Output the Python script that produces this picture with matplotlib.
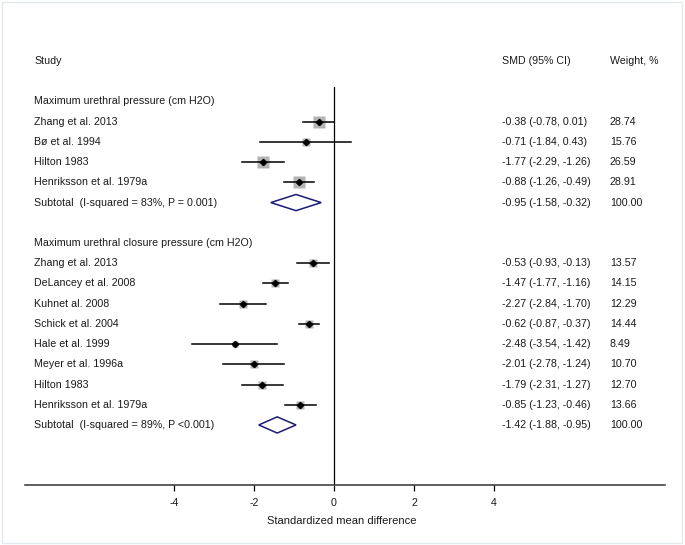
import numpy as np
import matplotlib.pyplot as plt
from matplotlib.patches import Rectangle

plt.rcParams['font.family'] = ['Liberation Sans', 'DejaVu Sans']

# group 1: maximum urethral pressure
g1_title = "Maximum urethral pressure (cm H2O)"
g1_studies = ["Zhang et al. 2013", "Bø et al. 1994", "Hilton 1983", "Henriksson et al. 1979a"]
g1_est = [-0.38, -0.71, -1.77, -0.88]
g1_lo = [-0.78, -1.84, -2.29, -1.26]
g1_hi = [0.01, 0.43, -1.26, -0.49]
g1_w = [28.74, 15.76, 26.59, 28.91]
g1_sub = "Subtotal  (I-squared = 83%, P = 0.001)"
g1_sub_vals = [-0.95, -1.58, -0.32, 100.00]

# group 2: maximum urethral closure pressure
g2_title = "Maximum urethral closure pressure (cm H2O)"
g2_studies = ["Zhang et al. 2013", "DeLancey et al. 2008", "Kuhnet al. 2008", "Schick et al. 2004",
              "Hale et al. 1999", "Meyer et al. 1996a", "Hilton 1983", "Henriksson et al. 1979a"]
g2_est = [-0.53, -1.47, -2.27, -0.62, -2.48, -2.01, -1.79, -0.85]
g2_lo = [-0.93, -1.77, -2.84, -0.87, -3.54, -2.78, -2.31, -1.23]
g2_hi = [-0.13, -1.16, -1.70, -0.37, -1.42, -1.24, -1.27, -0.46]
g2_w = [13.57, 14.15, 12.29, 14.44, 8.49, 10.70, 12.70, 13.66]
g2_sub = "Subtotal  (I-squared = 89%, P <0.001)"
g2_sub_vals = [-1.42, -1.88, -0.95, 100.00]

xticks = [-4, -2, 0, 2, 4]

fig = plt.figure(figsize=(6.85, 5.45), dpi=100)
ax = fig.add_axes([25/685, 60/545, 640/685, 485/545])
ax.set_xlim(-7.725, 8.275)
ax.set_ylim(20.97, -3.02)

fs = 7.7
tc = '#1a1a1a'
x_study = -7.5
x_smd = 4.2
x_wt = 6.9

ax.text(x_study, 0, "Study", fontsize=fs, va='center', color=tc)
ax.text(x_smd, 0, "SMD (95% CI)", fontsize=fs, va='center', color=tc)
ax.text(x_wt, 0, "Weight, %", fontsize=fs, va='center', color=tc)

navy = '#1a1a7a'

def draw_group(start, title, studies, est, lo, hi, w, sub, sub_vals):
    ax.text(x_study, start, title, fontsize=fs, va='center', color=tc)
    for i in range(len(studies)):
        r = start + 1 + i
        ax.text(x_study, r, studies[i], fontsize=fs, va='center', color=tc)
        ax.plot(est[i], r, marker='s', ms=2.24 * np.sqrt(w[i]) * 0.72,
                color='#b4b4b4', mec='none', zorder=2)
        ax.plot([lo[i], hi[i]], [r, r], color='black', lw=1.1, zorder=3)
        ax.plot(est[i], r, marker='D', ms=3.2, color='black', zorder=4)
        ax.text(x_smd, r, f"{est[i]:.2f} ({lo[i]:.2f}, {hi[i]:.2f})", fontsize=fs, va='center', color=tc)
        ax.text(x_wt, r, f"{w[i]:.2f}", fontsize=fs, va='center', color=tc)
    r = start + 1 + len(studies)
    e, l, h, sw = sub_vals
    ax.text(x_study, r, sub, fontsize=fs, va='center', color=tc)
    ax.fill([l, e, h, e, l], [r, r - 0.4, r, r + 0.4, r], facecolor='white',
            edgecolor=navy, lw=1.1, zorder=3)
    ax.text(x_smd, r, f"{e:.2f} ({l:.2f}, {h:.2f})", fontsize=fs, va='center', color=tc)
    ax.text(x_wt, r, f"{sw:.2f}", fontsize=fs, va='center', color=tc)

draw_group(2, g1_title, g1_studies, g1_est, g1_lo, g1_hi, g1_w, g1_sub, g1_sub_vals)
draw_group(9, g2_title, g2_studies, g2_est, g2_lo, g2_hi, g2_w, g2_sub, g2_sub_vals)

# null line
ax.plot([0, 0], [1.29, 20.97], color='black', lw=0.9, zorder=1)

for s in ['top', 'left', 'right']:
    ax.spines[s].set_visible(False)
ax.spines['bottom'].set_linewidth(1.1)
ax.spines['bottom'].set_color('#333333')
ax.set_yticks([])
ax.set_xticks(xticks)
ax.set_xticklabels([str(t) for t in xticks], fontsize=fs, color=tc)
ax.tick_params(axis='x', length=4, width=0.9, pad=5)
ax.text(0.2, -36 / 485, "Standardized mean difference", fontsize=fs + 0.3, ha='center',
        va='center', color=tc, transform=ax.get_xaxis_transform())

fig.patches.append(Rectangle((2/685, 2/545), 680/685, 541/545, transform=fig.transFigure,
                             fill=False, edgecolor='#e3eaee', lw=1))

fig.savefig("out.png", dpi=100)
